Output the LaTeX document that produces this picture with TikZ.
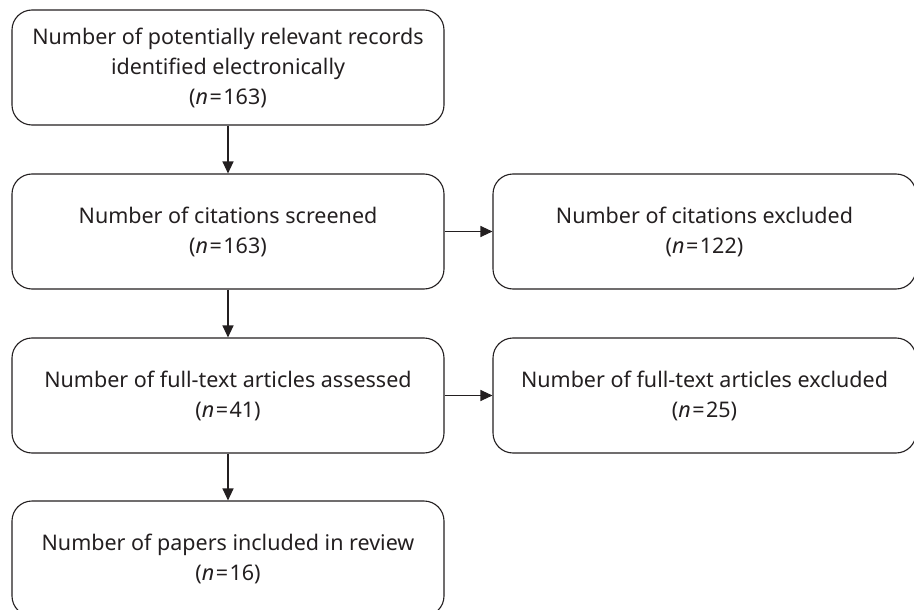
\documentclass[tikz,border=0pt]{standalone}
\usepackage{fontspec}
\setmainfont{Noto Sans}
\usetikzlibrary{arrows.meta}
\definecolor{ink}{HTML}{231F20}
\tikzset{
  box/.style={draw=ink, line width=1.1pt, rounded corners=20pt, align=center,
    text=ink, font=\fontsize{21.5}{30}\selectfont, inner sep=0pt},
  conn/.style={draw=ink, line width=1.1pt, -{Triangle[width=11pt,length=12pt]}}
}
\newcommand{\nval}[1]{(\textit{n}\hspace{1.5pt}=\hspace{1.5pt}#1)}
\begin{document}
\begin{tikzpicture}[x=1pt,y=-1pt]
\useasboundingbox (0,0) rectangle (914,610);
\clip (0,0) rectangle (914,610);
\node[box, minimum width=432pt, minimum height=115pt] (b1) at (228,67.5)
  {Number of potentially relevant records\\identified electronically\\\nval{163}};
\node[box, minimum width=432pt, minimum height=115pt] (b2) at (228,231.5)
  {Number of citations screened\\\nval{163}};
\node[box, minimum width=423pt, minimum height=115pt] (b3) at (704.5,231.5)
  {Number of citations excluded\\\nval{122}};
\node[box, minimum width=432pt, minimum height=115pt] (b4) at (228,395.5)
  {Number of full-text articles assessed\\\nval{41}};
\node[box, minimum width=423pt, minimum height=115pt] (b5) at (704.5,395.5)
  {Number of full-text articles excluded\\\nval{25}};
\node[box, minimum width=432pt, minimum height=115pt] (b6) at (228,558.5)
  {Number of papers included in review\\\nval{16}};
\draw[conn] (b1) -- (b2);
\draw[conn] (b2) -- (b3);
\draw[conn] (b2) -- (b4);
\draw[conn] (b4) -- (b5);
\draw[conn] (b4) -- (b6);
\end{tikzpicture}
\end{document}
